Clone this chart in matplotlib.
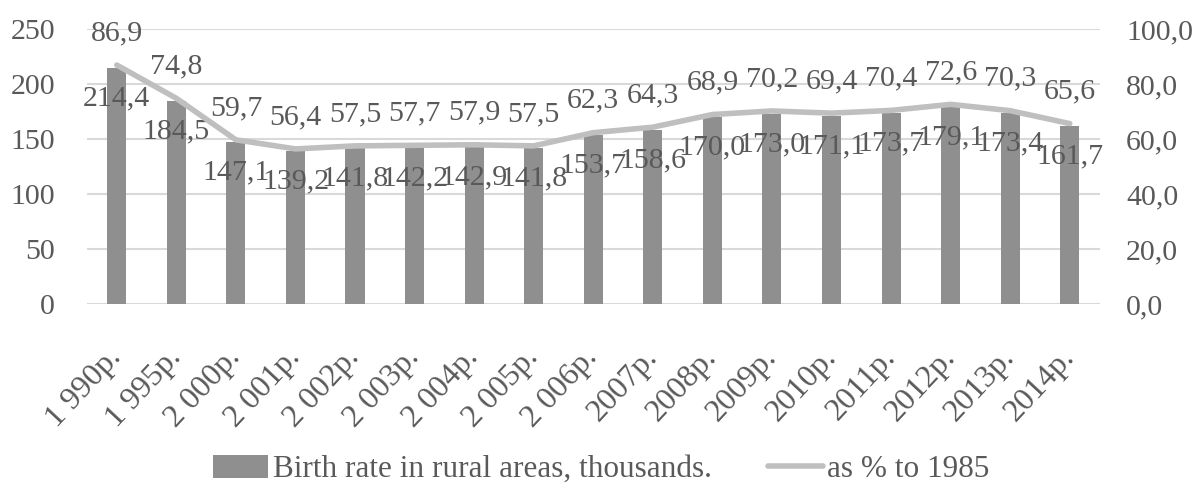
import matplotlib.pyplot as plt
import numpy as np

plt.rcParams['font.family'] = ['Liberation Serif', 'DejaVu Serif']

# Rural births by year
years = ['1 990р.', '1 995р.', '2 000р.', '2 001р.', '2 002р.', '2 003р.', '2 004р.',
         '2 005р.', '2 006р.', '2007р.', '2008р.', '2009р.', '2010р.', '2011р.',
         '2012р.', '2013р.', '2014р.']
births = [214.4, 184.5, 147.1, 139.2, 141.8, 142.2, 142.9, 141.8, 153.7, 158.6,
          170.0, 173.0, 171.1, 173.7, 179.1, 173.4, 161.7]
pct_1985 = [86.9, 74.8, 59.7, 56.4, 57.5, 57.7, 57.9, 57.5, 62.3, 64.3,
            68.9, 70.2, 69.4, 70.4, 72.6, 70.3, 65.6]

text_color = '#595959'
bar_color = '#8f8f8f'
line_color = '#bfbfbf'
fs = 21.5

def comma(v):
    return f"{v:.1f}".replace('.', ',')

fig = plt.figure(figsize=(12.03, 4.94), dpi=100)
ax = fig.add_axes([0.0723, 0.3846, 0.8417, 0.5567])
ax2 = ax.twinx()

x = np.arange(len(years))
ax.bar(x, births, width=0.32, color=bar_color, zorder=2,
       label='Birth rate in rural areas, thousands.')
ax2.plot(x, pct_1985, color=line_color, lw=4, solid_capstyle='round', zorder=3,
         label='as % to 1985')

ax.set_xlim(-0.5, len(years) - 0.5)
ax.set_ylim(0, 250)
ax.set_yticks(range(0, 251, 50))
ax2.set_ylim(0, 100)
ax2.set_yticks(range(0, 101, 20))
ax2.set_yticklabels([comma(v) for v in range(0, 101, 20)])

ax.yaxis.grid(True, color='#d9d9d9', lw=1.5, zorder=0)
ax.set_axisbelow(True)
for a in (ax, ax2):
    for s in a.spines.values():
        s.set_visible(False)
    a.tick_params(length=0, labelsize=fs, labelcolor=text_color)
ax.tick_params(axis='y', pad=23)
ax2.tick_params(axis='y', pad=19)

ax.set_xticks(x)
ax.set_xticklabels(years, rotation=47, ha='right', va='center',
                   rotation_mode='anchor', fontsize=23)
ax.tick_params(axis='x', pad=35)

# value labels
for xi, v in zip(x, births):
    ax.annotate(comma(v), (xi, v), xytext=(0, -22), textcoords='offset points',
                ha='center', va='center', fontsize=fs, color=text_color, zorder=5)
for xi, v in zip(x, pct_1985):
    ax2.annotate(comma(v), (xi, v), xytext=(0, 23), textcoords='offset points',
                 ha='center', va='center', fontsize=fs, color=text_color, zorder=5)

h1, l1 = ax.get_legend_handles_labels()
h2, l2 = ax2.get_legend_handles_labels()
fig.legend(h1 + h2, l1 + l2, loc='center', bbox_to_anchor=(0.5, 0.05), ncol=2,
           frameon=False, fontsize=22.5, labelcolor=text_color, handlelength=1.75,
           handletextpad=0.15, columnspacing=1.8, handleheight=0.75, borderpad=0)

fig.savefig('out.png', dpi=100)
